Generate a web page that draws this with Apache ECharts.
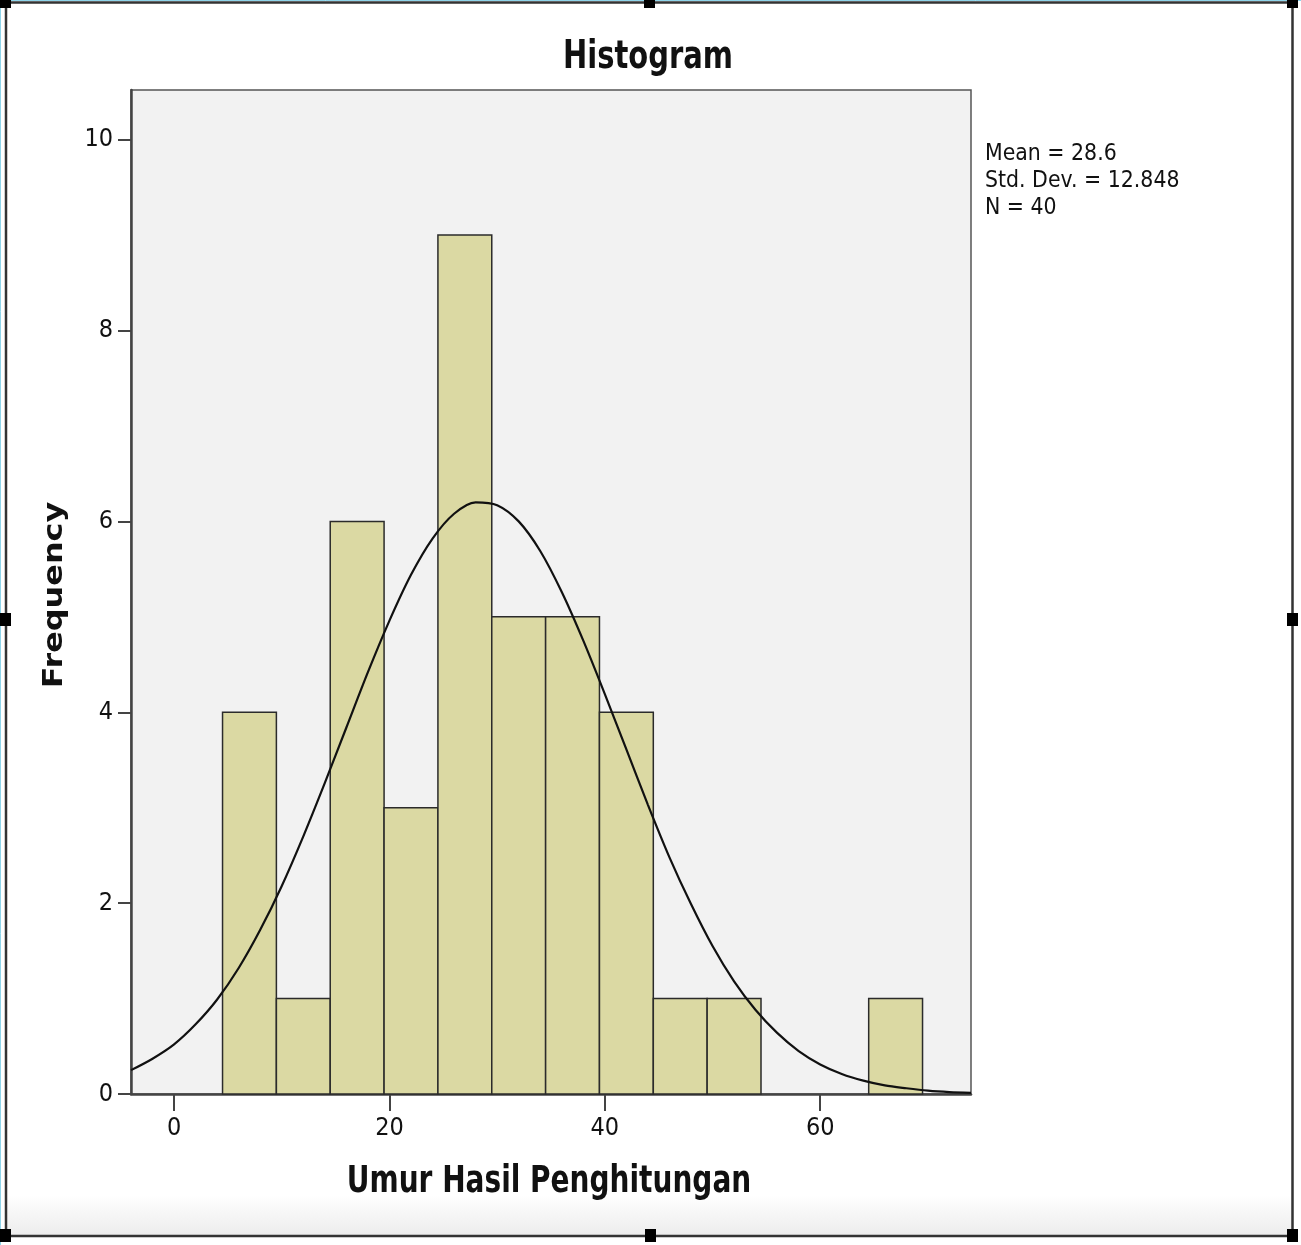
<!DOCTYPE html>
<html>
<head>
<meta charset="utf-8">
<script src="https://cdn.jsdelivr.net/npm/echarts@6/dist/echarts.min.js"></script>
<style>
  html, body { margin: 0; padding: 0; background: #fff; }
  #chart { width: 1301px; height: 1245px; }
</style>
</head>
<body>
<div id="chart"></div>
<script>
// histogram bins (lower / upper edge) and counts
const binLow = [4.5, 9.5, 14.5, 19.5, 24.5, 29.5, 34.5, 39.5, 44.5, 49.5, 64.5];
const binHigh = [9.5, 14.5, 19.5, 24.5, 29.5, 34.5, 39.5, 44.5, 49.5, 54.5, 69.5];
const freq = [4, 1, 6, 3, 9, 5, 5, 4, 1, 1, 1];

// normal curve
const curveX = [-4, -2, 0, 2, 4, 6, 8, 10, 12, 14, 16, 18, 20, 22, 24, 26, 28, 30, 32, 34, 36,
  38, 40, 42, 44, 46, 48, 50, 52, 54, 56, 58, 60, 62, 64, 66, 68, 70, 72, 74];
const curveY = [0.25, 0.37, 0.52, 0.73, 0.99, 1.32, 1.72, 2.18, 2.70, 3.26, 3.84, 4.42, 4.96, 5.44, 5.82, 6.08, 6.20, 6.17, 6.00,
  5.69, 5.26, 4.75, 4.19, 3.61, 3.03, 2.48, 1.99, 1.55, 1.18, 0.88, 0.64, 0.45, 0.31, 0.21, 0.14, 0.09, 0.06, 0.035, 0.02, 0.012];

const xTicks = [0, 20, 40, 60];
const yTicks = [0, 2, 4, 6, 8, 10];
const stats = ['Mean = 28.6', 'Std. Dev. = 12.848', 'N = 40'];

const tickFont = '"Liberation Sans Narrow", "DejaVu Sans Condensed", "DejaVu Sans", sans-serif';
const boldFont = '"DejaVu Sans", sans-serif';

const chart = echarts.init(document.getElementById('chart'));

const handles = [
  [0, 0], [644, 0], [1287, 0],
  [0, 613], [1287, 613],
  [0, 1229], [645, 1229], [1287, 1229],
].map(p => ({
  type: 'rect',
  shape: { x: p[0], y: p[1], width: 11, height: p[1] === 0 ? 8 : 13 },
  style: { fill: '#000' },
  z: 10,
}));

chart.setOption({
  animation: false,
  backgroundColor: '#fff',
  grid: {
    left: 131, top: 90, right: 330, bottom: 151,
    show: true,
    backgroundColor: '#f2f2f2',
    borderColor: '#555',
    borderWidth: 1.5,
  },
  xAxis: {
    type: 'value',
    min: -4,
    max: 74,
    splitLine: { show: false },
    axisLine: { show: true, onZero: false, lineStyle: { color: '#444', width: 2.5 } },
    axisTick: { show: true, length: 17, customValues: xTicks, lineStyle: { color: '#444', width: 2 } },
    axisLabel: {
      customValues: xTicks,
      margin: 22,
      color: '#111',
      fontSize: 25,
      fontFamily: tickFont,
    },
  },
  yAxis: {
    type: 'value',
    min: 0,
    max: 10.52,
    splitLine: { show: false },
    axisLine: { show: true, onZero: false, lineStyle: { color: '#444', width: 2.5 } },
    axisTick: { show: true, length: 13, customValues: yTicks, lineStyle: { color: '#444', width: 2 } },
    axisLabel: {
      customValues: yTicks,
      margin: 18,
      color: '#111',
      fontSize: 25,
      fontFamily: tickFont,
    },
  },
  series: [
    {
      type: 'custom',
      data: binLow.map((lo, i) => [lo, binHigh[i], freq[i]]),
      encode: { x: [0, 1], y: 2 },
      renderItem: (params, api) => {
        const p0 = api.coord([api.value(0), api.value(2)]);
        const p1 = api.coord([api.value(1), 0]);
        return {
          type: 'rect',
          shape: { x: p0[0], y: p0[1], width: p1[0] - p0[0], height: p1[1] - p0[1] },
          style: { fill: '#dbd9a3', stroke: '#2b2b2b', lineWidth: 1.5 },
        };
      },
      z: 2,
    },
    {
      type: 'line',
      data: curveX.map((x, i) => [x, curveY[i]]),
      smooth: 0.3,
      showSymbol: false,
      clip: true,
      lineStyle: { color: '#111', width: 2.2 },
      z: 3,
    },
  ],
  graphic: [
    {
      type: 'rect',
      shape: { x: 6, y: 1195, width: 1286, height: 41 },
      style: {
        fill: new echarts.graphic.LinearGradient(0, 0, 0, 1, [
          { offset: 0, color: '#ffffff' },
          { offset: 1, color: '#ececec' },
        ]),
      },
      z: -1,
    },
    {
      type: 'line',
      shape: { x1: 0.5, y1: 0, x2: 0.5, y2: 1245 },
      style: { stroke: '#8fd4ea', lineWidth: 1 },
    },
    {
      type: 'line',
      shape: { x1: 0, y1: 0.5, x2: 1301, y2: 0.5 },
      style: { stroke: '#8fd4ea', lineWidth: 1 },
    },
    {
      type: 'rect',
      shape: { x: 6, y: 2.5, width: 1286.5, height: 1233.5 },
      style: { fill: 'none', stroke: '#333', lineWidth: 2.5 },
      z: 9,
    },
    ...handles,
    {
      type: 'text',
      x: 648, y: 58,
      scaleY: 1.33,
      style: {
        text: 'Histogram',
        font: 'bold 29px ' + boldFont,
        fill: '#111',
        align: 'center',
        verticalAlign: 'middle',
      },
    },
    {
      type: 'text',
      x: 549, y: 1183,
      scaleY: 1.3,
      style: {
        text: 'Umur Hasil Penghitungan',
        font: 'bold 28px ' + boldFont,
        fill: '#111',
        align: 'center',
        verticalAlign: 'middle',
      },
    },
    {
      type: 'text',
      x: 55, y: 595,
      rotation: Math.PI / 2,
      scaleX: 1.18,
      style: {
        text: 'Frequency',
        font: 'bold 27px ' + boldFont,
        fill: '#111',
        align: 'center',
        verticalAlign: 'middle',
      },
    },
    ...stats.map((s, i) => ({
      type: 'text',
      x: 985, y: 154 + i * 27,
      scaleY: 1.15,
      style: {
        text: s,
        font: '20.5px "DejaVu Sans", sans-serif',
        fill: '#111',
        align: 'left',
        verticalAlign: 'middle',
      },
    })),
  ],
});
</script>
</body>
</html>
